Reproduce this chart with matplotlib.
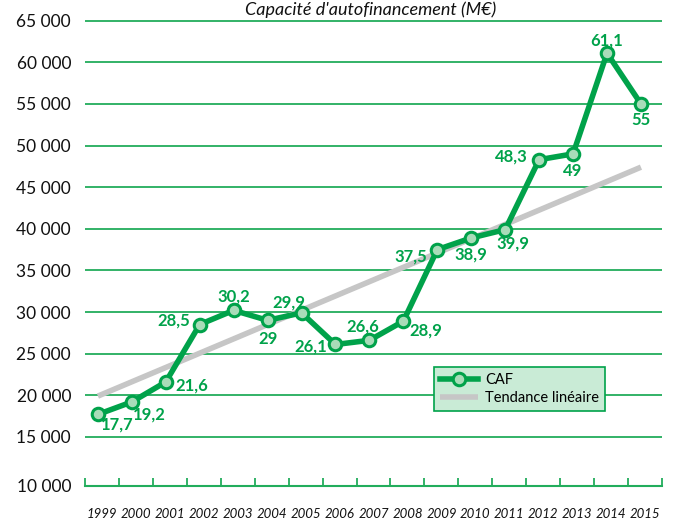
import matplotlib
matplotlib.use('Agg')
import matplotlib.pyplot as plt
import numpy as np

plt.rcParams['font.family'] = ['Lato', 'DejaVu Sans']

years = ['1999', '2000', '2001', '2002', '2003', '2004', '2005', '2006', '2007',
         '2008', '2009', '2010', '2011', '2012', '2013', '2014', '2015']
caf = [17700, 19200, 21600, 28500, 30200, 29000, 29900, 26100, 26600,
       28900, 37500, 38900, 39900, 48300, 49000, 61100, 55000]
point_labels = ['17,7', '19,2', '21,6', '28,5', '30,2', '29', '29,9', '26,1', '26,6',
                '28,9', '37,5', '38,9', '39,9', '48,3', '49', '61,1', '55']
# trend line ends
trend_start, trend_end = 19900, 47400
ytick_values = [15000, 20000, 25000, 30000, 35000, 40000, 45000, 50000, 55000, 60000, 65000]
ytick_labels = ['15 000', '20 000', '25 000', '30 000', '35 000', '40 000',
                '45 000', '50 000', '55 000', '60 000', '65 000']

# label offsets in pixels (dx, dy)
label_offsets = [(19, -10), (17, -13), (26, -4), (-26, 4), (0, 14), (0, -19), (-13, 10),
                 (-25, -2), (-7, 14), (22, -9), (-27, -7), (0, -17), (8, -14),
                 (-28, 3), (0, -17), (0, 13), (0, -16)]

green = '#00a24a'
grid_green = '#22ad5c'

fig = plt.figure(figsize=(6.73, 5.22), dpi=100)
ax = fig.add_axes([85 / 673, 1 - 486 / 522, 577 / 673, 467 / 522])

x = np.arange(len(years))
ax.set_xlim(-0.38, 16.62)
ax.set_ylim(9100, 65200)

for v in ytick_values:
    ax.axhline(v, color=grid_green, lw=1.3, zorder=1)

ax.plot([x[0], x[-1]], [trend_start, trend_end], color='#c6c6c6', lw=4,
        solid_capstyle='butt', zorder=2, label='Tendance linéaire')
ax.plot(x, caf, color=green, lw=4, marker='o', ms=9, mfc='#a9dcb9', mec=green,
        mew=2.2, zorder=3, label='CAF')

for xi, yi, lab, (dx, dy) in zip(x, caf, point_labels, label_offsets):
    ax.annotate(lab, (xi, yi), xytext=(dx, dy), textcoords='offset pixels',
                ha='center', va='center', color=green, fontsize=12, fontweight='bold')

for s in ['left', 'right', 'top']:
    ax.spines[s].set_visible(False)
ax.spines['bottom'].set_color(grid_green)
ax.spines['bottom'].set_linewidth(1.5)

ax.set_yticks([9100] + ytick_values)
ax.set_yticklabels(['10 000'] + ytick_labels, fontsize=12.5, color='#111111')
ax.tick_params(axis='y', length=0, pad=10)

ax.set_xticks(np.arange(len(years) + 1) - 0.38, minor=True)
ax.set_xticks(x + 0.12)
ax.set_xticklabels(years, fontsize=9.5, style='italic', color='#111111')
ax.tick_params(axis='x', which='major', length=0, pad=16)
ax.tick_params(axis='x', which='minor', direction='in', length=6, width=1.3, color=grid_green)

handles, labels = ax.get_legend_handles_labels()
leg = ax.legend(handles[::-1], labels[::-1], loc='upper left', bbox_to_anchor=(0.605, 0.255),
                borderaxespad=0, frameon=True, fancybox=False, fontsize=10.5,
                handlelength=2.6, borderpad=0.4, labelspacing=0.3, handletextpad=0.5)
leg.get_frame().set_facecolor('#c9ebd6')
leg.get_frame().set_edgecolor(green)
leg.get_frame().set_alpha(1)
leg.get_frame().set_linewidth(1.2)

fig.text(0.55, 1 - 1 / 522, "Capacité d'autofinancement (M€)", ha='center', va='top',
         fontsize=13, style='italic', color='#111111')

fig.savefig('out.png', dpi=100)
